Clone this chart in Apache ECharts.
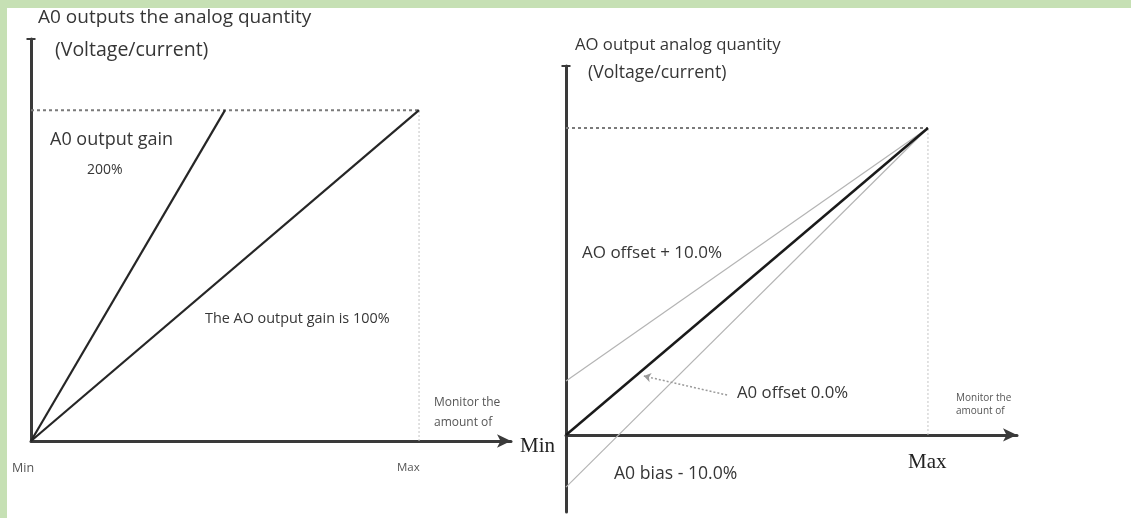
<!DOCTYPE html>
<html>
<head>
<meta charset="utf-8">
<script src="https://cdn.jsdelivr.net/npm/echarts@6/dist/echarts.min.js"></script>
<style>
  html, body { margin: 0; padding: 0; background: #fff; }
  #main { width: 1131px; height: 518px; }
</style>
</head>
<body>
<div id="main"></div>
<script>
// left panel: output gain
const leftTickLabels = ['Min', 'Max']
const gain100 = [[0, 0], [1, 1]]
const gain200 = [[0, 0], [0.5, 1]]
// right panel: output offset
const rightTickLabels = ['Max']
const offsetZero = [[0, 0], [1, 1]]
const offsetPlus = [[0, 0.176], [1, 1]]
const offsetMinus = [[0, -0.17], [1, 1]]
// full scale guides (both panels)
const fullScaleH = [[0, 1], [1, 1]]
const fullScaleV = [[1, 0], [1, 1]]
// dotted pointer to the 0.0% line
const pointer = [[0.445, 0.13], [0.215, 0.192]]

const font = '"Open Sans", Lato, sans-serif'
const serif = '"Liberation Serif", "DejaVu Serif", serif'
const ink = '#363636'

function txt (x, y, text, size, extra) {
  return {
    type: 'text',
    x: x,
    y: y,
    style: Object.assign({
      text: text,
      fontSize: size,
      fontFamily: font,
      fill: ink,
      textVerticalAlign: 'middle'
    }, extra || {})
  }
}

function axisLine (end, size) {
  return {
    show: true,
    onZero: true,
    symbol: ['none', end],
    symbolSize: size,
    lineStyle: { color: '#3a3a3a', width: 3 }
  }
}

const hidden = {
  axisTick: { show: false },
  axisLabel: { show: false },
  splitLine: { show: false }
}

function seg (data, xi, color, width, type) {
  return {
    type: 'line',
    xAxisIndex: xi,
    yAxisIndex: xi,
    data: data,
    symbol: 'none',
    silent: true,
    lineStyle: { color: color, width: width, type: type || 'solid' }
  }
}

const chart = echarts.init(document.getElementById('main'))
chart.setOption({
  animation: false,
  backgroundColor: '#fff',
  grid: [
    { left: 31, top: 39, width: 480, height: 402 },
    { left: 566, top: 66, width: 451, height: 446 }
  ],
  xAxis: [
    Object.assign({ type: 'value', gridIndex: 0, min: 0, max: 1.237, axisLine: axisLine('arrow', [10, 14]) }, hidden),
    Object.assign({ type: 'value', gridIndex: 1, min: 0, max: 1.246, axisLine: axisLine('arrow', [10, 14]) }, hidden)
  ],
  yAxis: [
    Object.assign({ type: 'value', gridIndex: 0, min: 0, max: 1.215, axisLine: axisLine('rect', [9, 2]) }, hidden),
    Object.assign({ type: 'value', gridIndex: 1, min: -0.251, max: 1.202, axisLine: axisLine('rect', [9, 2]) }, hidden)
  ],
  series: [
    seg(fullScaleH, 0, '#7a7a7a', 2, [3, 3]),
    seg(fullScaleV, 0, '#c4c4c4', 1, [2, 2]),
    seg(gain200, 0, '#262626', 2.2),
    seg(gain100, 0, '#262626', 2.2),
    seg(fullScaleH, 1, '#7a7a7a', 2, [3, 3]),
    seg(fullScaleV, 1, '#c4c4c4', 1, [2, 2]),
    seg(offsetPlus, 1, '#b4b4b4', 1.2),
    seg(offsetMinus, 1, '#b4b4b4', 1.2),
    Object.assign(seg(offsetZero, 1, '#1a1a1a', 2.5), {
      markLine: {
        silent: true,
        symbol: ['none', 'arrow'],
        symbolSize: 7,
        label: { show: false },
        lineStyle: { color: '#9a9a9a', width: 1.5, type: [2, 2] },
        data: [[{ coord: pointer[0] }, { coord: pointer[1] }]]
      }
    })
  ],
  graphic: [
    { type: 'rect', shape: { x: 0, y: 0, width: 1131, height: 8 }, style: { fill: '#c6e0b4' } },
    { type: 'rect', shape: { x: 0, y: 0, width: 7, height: 518 }, style: { fill: '#c6e0b4' } },
    // left panel texts
    txt(38, 18, 'A0 outputs the analog quantity', 19),
    txt(55, 50, '(Voltage/current)', 19.5),
    txt(50, 140, 'A0 output gain', 18),
    txt(87, 170, '200%', 14),
    txt(205, 319, 'The AO output gain is 100%', 14.4),
    txt(434, 403, 'Monitor the', 12, { fill: '#555' }),
    txt(434, 423, 'amount of', 12, { fill: '#555' }),
    txt(12, 468, leftTickLabels[0], 12.5, { fill: '#555' }),
    txt(397, 468, leftTickLabels[1], 11.5, { fill: '#555' }),
    txt(520, 446, 'Min', 21, { fontFamily: serif, fill: '#222' }),
    // right panel texts
    txt(575, 45, 'AO output analog quantity', 16.7),
    txt(588, 73, '(Voltage/current)', 17.6),
    txt(582, 253, 'AO offset + 10.0%', 17),
    txt(737, 393, 'A0 offset 0.0%', 16.8),
    txt(614, 474, 'A0 bias - 10.0%', 17.6),
    txt(908, 462, rightTickLabels[0], 21, { fontFamily: serif, fill: '#222' }),
    txt(956, 398, 'Monitor the', 10, { fill: '#555' }),
    txt(956, 411, 'amount of', 10, { fill: '#555' })
  ]
})
</script>
</body>
</html>
